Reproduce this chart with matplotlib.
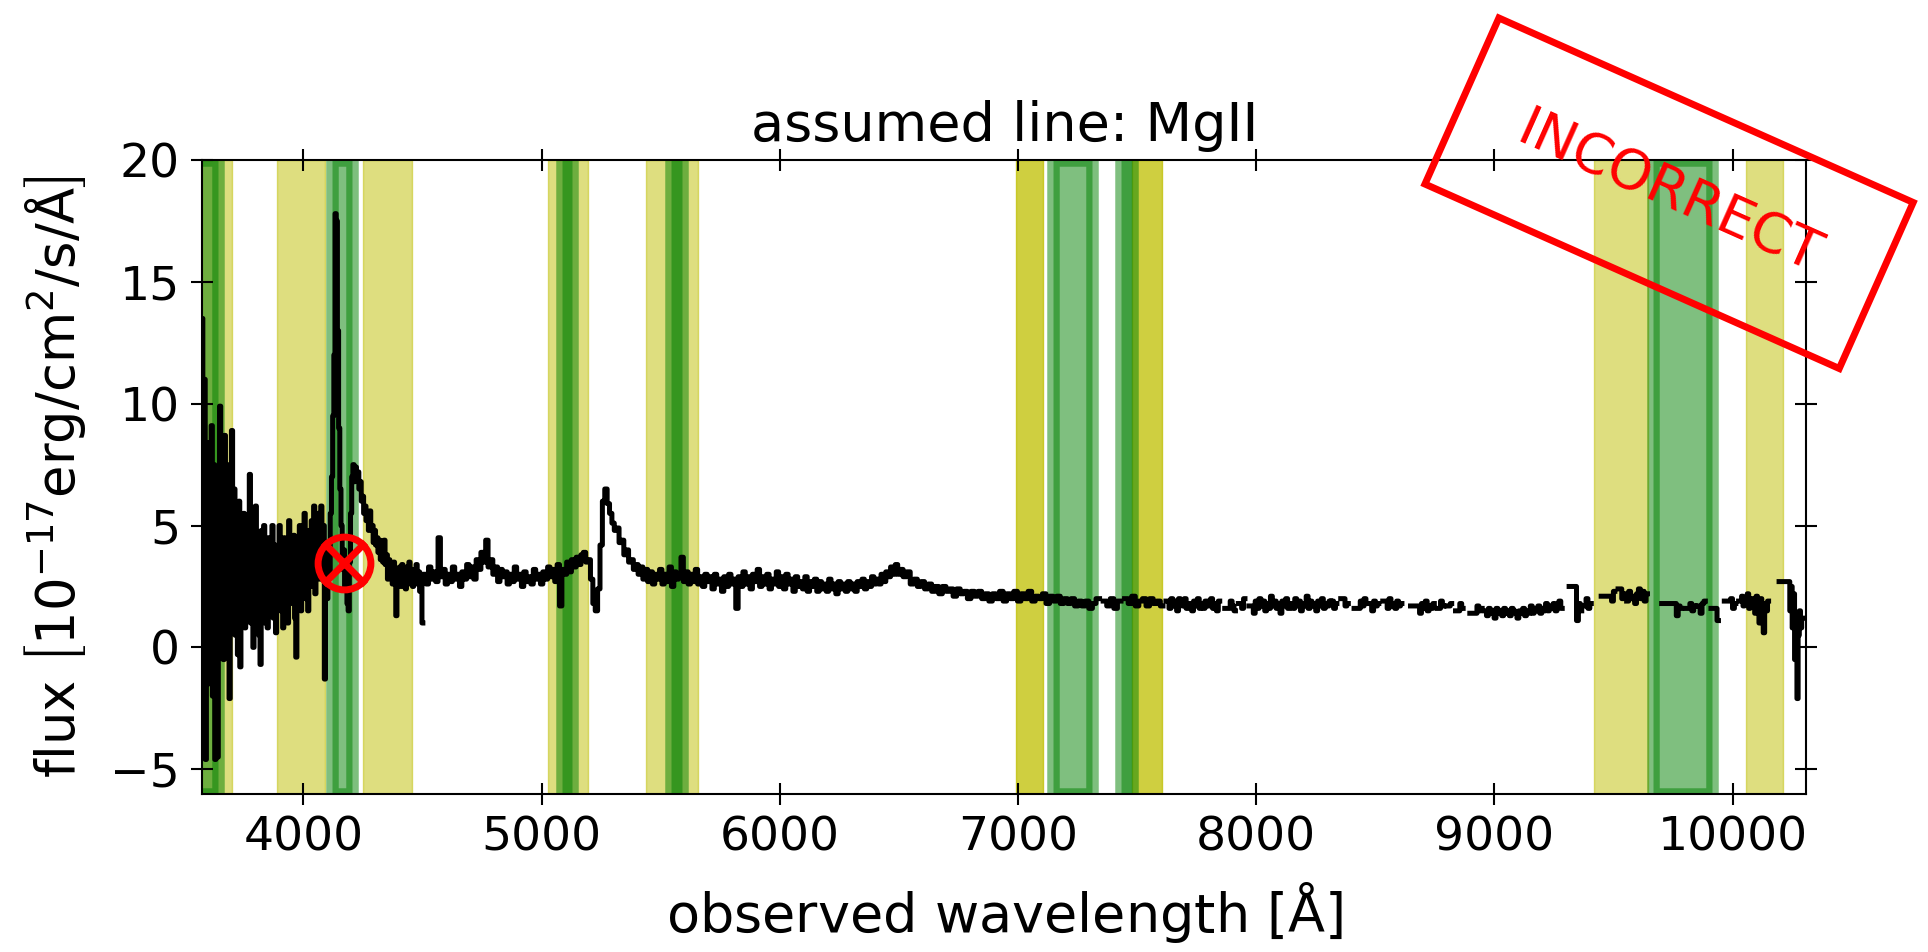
import numpy as np
import matplotlib
matplotlib.use('Agg')
import matplotlib.pyplot as plt

# spectrum pieces: (start wavelength, step, flux values) -- gaps between pieces are masked pixels
spec_segments = [
    (3575, 5, [13.5, -3.0, 11.0, -4.6, 6.0, -1.5, 8.4, 0.5, 9.1, -2.0,
               7.5, -4.6, 5.0, -4.5, 6.5, 9.9, 1.0, 4.5, -0.5, 8.7,
               1.0, 7.5, 0.0, -2.1, 5.5, 8.9, 1.5, 6.5, 0.5, 5.0,
               -0.3, 6.0, -0.8, 4.5, 1.5, 5.5, 0.8, 4.0, 2.0, 5.2,
               7.1, 1.0, 4.5, 0.0, 3.5, 5.8, 1.2, 4.0, 0.5, -0.7,
               4.8, 2.0, 5.0, 1.0, 3.8, 0.8, 4.5, 1.5, 3.2, 5.0,
               1.2, 4.2, 0.6, 3.5, 2.0, 5.0, 1.5, 3.8, 0.8, 4.5,
               2.2, 4.0, 1.0, 5.2, 1.8, 3.5, 2.5, 4.6, 1.2, -0.4,
               3.8, 2.0, 5.0, 1.5, 4.2, 2.8, 5.5, 2.0, 4.0, 1.5,
               4.8, 2.5, 5.2, 3.0, 5.8, 2.2, 4.5, 3.0, 5.5, 2.8,
               5.8, 3.5, 5.0, -1.3, 2.5,
               # MgII emission
               2.0, 4.0, 3.0, 5.5, 7.0, 9.5, 12.0, 17.8, 17.5, 13.0,
               9.0, 6.5, 5.0, 3.2, 4.0, 2.5, 3.0, 1.8, 1.5, 3.5,
               5.5, 7.0, 7.5, 6.8, 7.4, 6.9, 7.2, 6.5, 6.8, 6.0,
               6.2, 5.5, 5.8, 5.2, 5.5, 4.8, 5.6, 4.9, 5.0, 4.3,
               4.8, 4.2, 4.5, 3.9, 4.4, 3.6, 4.2, 3.5, 4.4, 3.4,
               3.8, 2.8, 3.6, 3.0, 3.4, 2.6, 3.5, 2.8, 1.3, 3.2,
               2.7, 3.3, 2.5, 3.4, 2.9, 3.1, 2.4, 3.3, 2.8, 3.5,
               2.6, 3.2, 2.5, 3.0, 2.7, 3.4, 2.6, 3.1, 2.3, 2.9, 1.0]),
    (4510, 10, [3.0, 2.6, 3.3, 2.8, 3.1, 2.7, 4.5, 2.9, 3.2, 2.6,
                3.0, 2.7, 3.3, 2.8, 3.0, 2.5, 3.1, 2.8, 3.4, 2.9,
                3.3, 2.8, 3.6, 3.2, 3.9, 3.5, 4.4, 3.3, 3.6, 3.0,
                3.3, 2.7, 3.2, 2.9, 3.1, 2.6, 3.0, 2.7, 3.3, 2.8,
                3.0, 2.5, 3.1, 2.7, 2.9, 2.6, 3.2, 2.8, 3.0, 2.6,
                3.1, 2.8, 3.3, 2.9, 3.2, 2.7, 3.4, 1.7, 3.2, 3.0,
                3.5, 3.1, 3.6, 3.3, 3.7, 3.4, 3.8, 3.9, 3.5, 3.6,
                2.8, 1.8, 1.5, 2.4, 4.2, 6.0, 6.5, 5.9, 5.5, 5.1,
                4.8, 4.9, 4.3, 4.4, 3.8, 4.0, 3.5, 3.6, 3.2, 3.4,
                3.0, 3.3, 2.8, 3.2, 2.7, 3.1, 2.6, 3.0, 2.8, 3.2,
                2.6, 3.0, 2.7, 3.3, 2.5, 3.1, 2.8, 3.0, 3.7, 2.7,
                3.1, 2.6, 3.0, 2.7, 3.2, 2.6, 2.9, 2.5, 3.0, 2.7,
                2.9, 2.4, 3.0, 2.6, 2.8, 2.3, 2.9, 2.5, 3.0, 2.6,
                2.8, 1.6, 2.9, 2.5, 3.1, 2.6, 2.9, 2.4, 3.0, 2.7,
                3.2, 2.5, 2.9, 2.6, 3.0, 2.4, 2.8, 2.6, 3.1, 2.5,
                2.9, 2.4, 3.0, 2.6, 2.8, 2.3, 2.9, 2.5, 2.7, 2.4,
                2.9, 2.3, 2.7, 2.5, 2.8, 2.3, 2.7, 2.4, 2.6, 2.3,
                2.8, 2.4, 2.6, 2.2, 2.7, 2.4, 2.6, 2.3, 2.7, 2.4,
                2.6, 2.3, 2.7, 2.5, 2.8, 2.4, 2.7, 2.5, 2.9, 2.6,
                2.8, 2.6, 3.0, 2.7, 3.1, 2.9, 3.3, 3.0, 3.4, 3.0]),
    (6510, 15, [3.2, 2.9, 3.1, 2.6, 2.8, 2.5, 2.7, 2.4, 2.6, 2.3,
                2.5, 2.2, 2.5, 2.3, 2.4, 2.1, 2.4, 2.2, 2.3, 2.0,
                2.3, 2.1, 2.3, 2.0, 2.2, 1.9, 2.2, 2.0, 2.3, 1.9,
                2.2, 2.0, 2.3, 1.9, 2.2, 2.0, 2.3, 1.9, 2.1, 2.0,
                2.2, 1.8, 2.1, 1.9, 2.1, 1.8, 2.0, 1.8, 2.0, 1.7,
                1.9, 1.7, 1.9, 1.6, 1.8, 2.0, np.nan, 1.9, 1.7, 2.0,
                1.6, 1.9, np.nan, 2.0, 1.8, 2.1, 1.7, 1.9, 2.0, 1.7,
                2.0, 1.8, 1.9, 1.7]),
    (7630, 8, [1.9, 1.6, 2.0, 1.7, 1.9, 1.5, 2.0, 1.8, 1.7, 2.0, 1.6]),
    (7725, 8, [1.8, 1.5, 1.9, 1.7, 2.0, 1.6, 1.8, 1.6, 1.9]),
    (7805, 8, [1.7, 2.0, 1.6, 1.8, 1.5, 1.9]),
    (7887, 8, [1.6, 1.9, 1.7, 1.5]),
    (7935, 8, [1.8, 1.6, 2.0]),
    (7984, 8, [1.7, 1.4, 1.9, 1.6, 2.0, 1.7, 1.9, 1.5, 1.8, 1.6,
               2.1, 1.7, 1.9, 1.6, 1.8, 1.4, 1.9, 1.7, 2.0, 1.6]),
    (8150, 8, [1.8, 1.6, 2.0, 1.7, 1.9, 1.5, 1.8, 1.7, 2.1, 1.6,
               1.9, 1.7, 1.8, 1.5, 1.9, 1.7, 2.0, 1.6, 1.8, 1.7, 1.9]),
    (8321, 8, [1.9, 1.6, 1.8]),
    (8369, 8, [2.0, 1.7, 1.8]),
    (8433, 8, [1.6, 1.9, 1.7, 2.0, 1.8]),
    (8481, 8, [1.8, 1.5, 1.9, 1.7, 1.8]),
    (8546, 8, [1.9, 1.6, 2.0, 1.7, 1.8, 1.6, 1.9, 1.7, 1.8]),
    (8682, 8, [1.7, 1.4, 1.8, 1.6, 1.9, 1.5, 1.7, 1.6, 1.8]),
    (8770, 8, [1.6, 1.9, 1.7]),
    (8811, 8, [1.7, 1.8]),
    (8851, 8, [1.5, 1.8, 1.6]),
    (8923, 8, [1.4, 1.7, 1.5, 1.6]),
    (8963, 8, [1.5, 1.3, 1.6, 1.4, 1.5, 1.2, 1.6, 1.4, 1.5, 1.3,
               1.6, 1.4, 1.5, 1.3, 1.6, 1.5, 1.4, 1.2, 1.5, 1.4,
               1.6, 1.3, 1.5, 1.4, 1.7, 1.4, 1.6, 1.5, 1.7, 1.4,
               1.6, 1.5, 1.8, 1.5, 1.7, 1.6, 1.8, 1.5, 1.7, 1.9, 1.6]),
    (9341, 8, [2.5, 1.1, 1.8, 1.5]),
    (9381, 8, [1.7, 2.0, 1.6, 1.8]),
    (9488, 8, [2.1, 1.9, 2.3]),
    (9531, 8, [2.4, 2.0, 2.2]),
    (9560, 8, [1.9, 2.3, 2.0]),
    (9585, 8, [2.1, 1.8, 2.2, 2.4, 2.0, 2.3, 1.9, 2.2]),
    (9760, 8, [1.8, 1.3, 1.7, 1.6]),
    (9817, 8, [1.6, 1.8, 1.5, 1.7]),
    (9860, 8, [1.7, 1.4, 1.8, 1.9]),
    (9931, 8, [1.6, 1.1]),
    (9988, 8, [1.9, 2.0, 1.6, 1.8]),
    (10035, 6, [1.9, 2.1, 1.7, 2.0, 1.8, 2.2, 1.6, 2.0]),
    (10090, 6, [1.9, 1.4, 2.1, 1.7, 1.0, 2.0, 1.6, 0.6, 1.8, 1.5, 1.9]),
    (10238, 5, [2.7, 1.5, 2.5, 0.8, 2.2, -0.5, 1.0, -2.1, 0.5, 1.5, 0.8, 1.2]),
]

# line windows
green_lo = [3540, 4118, 5084, 5543, 7146, 7431, 9665]
green_hi = [3643, 4205, 5126, 5588, 7310, 7480, 9913]
yellow_lo = [3540, 3888, 4248, 5028, 5440, 9420, 10057]
yellow_hi = [3702, 4091, 4455, 5196, 5655, 9644, 10214]
yellow_dark_lo = [6992, 7480]
yellow_dark_hi = [7103, 7605]

# position of the assumed line
line_wave = 4170
line_flux = 3.45

wave = []
flux = []
for start, step, vals in spec_segments:
    wave.extend(start + step * np.arange(len(vals)))
    flux.extend(vals)
    wave.append(wave[-1] + 0.5 * step)
    flux.append(np.nan)
wave = np.array(wave)
flux = np.array(flux)

fig = plt.figure(figsize=(19.28, 9.52), dpi=100)
ax = fig.add_axes([0.1049, 0.1664, 0.832, 0.6655])

for lo, hi in zip(yellow_lo, yellow_hi):
    ax.axvspan(lo, hi, color='y', alpha=0.5, lw=1)
for lo, hi in zip(yellow_dark_lo, yellow_dark_hi):
    ax.axvspan(lo, hi, color='y', alpha=0.75, lw=1)
for lo, hi in zip(green_lo, green_hi):
    ax.axvspan(lo, hi, color='g', alpha=0.5, lw=9)

ax.plot(wave, flux, color='k', lw=3.6, drawstyle='steps-mid', zorder=3)

ax.plot(line_wave, line_flux, marker='o', ms=38, mfc='none', mec='r', mew=5, zorder=5)
ax.plot(line_wave, line_flux, marker='x', ms=30, mec='r', mew=5, zorder=5)

ax.set_xlim(3575, 10310)
ax.set_ylim(-6, 20)
ax.set_xticks([4000, 5000, 6000, 7000, 8000, 9000, 10000])
ax.set_yticks([-5, 0, 5, 10, 15, 20])
ax.tick_params(direction='inout', length=16, width=1.5, labelsize=34, pad=8,
               top=True, right=True)
for sp in ax.spines.values():
    sp.set_linewidth(1.5)

ax.set_xlabel(r'observed wavelength [$\rm\AA$]', fontsize=39, labelpad=14)
ax.set_ylabel(r'flux $\left[10^{-17}{\rm erg/cm^2/s/\AA}\right]$', fontsize=38,
              labelpad=16)
ax.set_title('assumed line: MgII', fontsize=39, pad=14)

fig.text(0.8657, 0.797, 'INCORRECT', color='red', fontsize=40, rotation=-24,
         ha='center', va='center', rotation_mode='anchor', zorder=10,
         bbox=dict(boxstyle='square,pad=1.15', fc='none', ec='red', lw=5))

fig.savefig('out.png', dpi=100)
